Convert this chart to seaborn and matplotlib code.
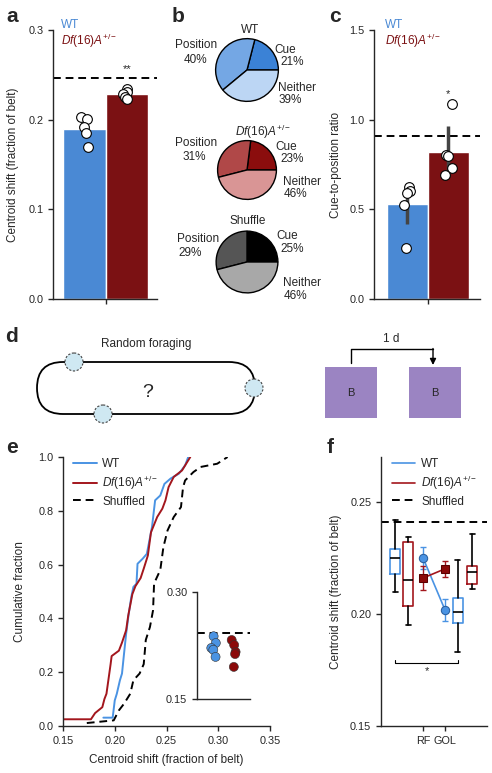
import numpy as np
import pandas as pd
import matplotlib
matplotlib.use('Agg')
import matplotlib.pyplot as plt
from matplotlib.patches import FancyBboxPatch, Circle, Rectangle
from matplotlib.lines import Line2D
import seaborn as sns

sns.set_theme(style='ticks')
plt.rcParams['font.family'] = ['Liberation Sans', 'DejaVu Sans']
plt.rcParams['font.size'] = 8.5
plt.rcParams['axes.labelsize'] = 8.5
plt.rcParams['legend.fontsize'] = 8.5
plt.rcParams['mathtext.fontset'] = 'custom'
plt.rcParams['mathtext.rm'] = 'Liberation Sans'
plt.rcParams['mathtext.it'] = 'Liberation Sans:italic'
plt.rcParams['axes.linewidth'] = 1.0
plt.rcParams['xtick.major.width'] = 1.0
plt.rcParams['ytick.major.width'] = 1.0
plt.rcParams['xtick.major.size'] = 3.5
plt.rcParams['ytick.major.size'] = 3.5
plt.rcParams['xtick.labelsize'] = 7.8
plt.rcParams['ytick.labelsize'] = 7.8

DF_LABEL = r'$\mathit{Df(16)A}^{+/-}$'
BLUE = '#4a89d4'
RED = '#7b1113'
LBLUE = '#4a93e3'
LRED = '#a3161d'
np.random.seed(7)

# ---- data ----
groups = ['WT', 'Df']
a_wt = [0.203, 0.201, 0.192, 0.185, 0.169]
a_df = [0.234, 0.231, 0.229, 0.225, 0.223]
a_shuffle = 0.246

pie_labels = ['Cue', 'Position', 'Neither']
pie_wt = [21, 40, 39]
pie_df = [23, 31, 46]
pie_sh = [25, 29, 46]

c_wt = [0.626, 0.604, 0.593, 0.526, 0.286]
c_df = [1.085, 0.803, 0.800, 0.732, 0.690]
c_err = [0.11, 0.14]
c_shuffle = 0.91

e_wt_x = [0.189, 0.198, 0.200, 0.202, 0.205, 0.207, 0.209, 0.211, 0.2135, 0.216, 0.218,
          0.221, 0.222, 0.227, 0.231, 0.236, 0.239, 0.244, 0.248, 0.254, 0.262, 0.268, 0.271]
e_wt_y = [0.031, 0.031, 0.095, 0.12, 0.17, 0.195, 0.27, 0.343, 0.417, 0.48, 0.517,
          0.529, 0.603, 0.622, 0.64, 0.74, 0.839, 0.857, 0.90, 0.92, 0.938, 0.969, 1.0]
e_df_x = [0.150, 0.177, 0.181, 0.188, 0.190, 0.192, 0.196, 0.197, 0.204, 0.207, 0.211, 0.213,
          0.217, 0.220, 0.225, 0.228, 0.232, 0.235, 0.241, 0.246, 0.249, 0.252, 0.257, 0.265, 0.273]
e_df_y = [0.025, 0.025, 0.048, 0.07, 0.10, 0.12, 0.23, 0.26, 0.28, 0.31, 0.356, 0.41,
          0.49, 0.52, 0.55, 0.585, 0.634, 0.72, 0.777, 0.808, 0.839, 0.888, 0.926, 0.95, 1.0]
e_sh_x = [0.173, 0.199, 0.204, 0.209, 0.215, 0.218, 0.224, 0.228, 0.230, 0.234, 0.237, 0.238,
          0.244, 0.247, 0.251, 0.257, 0.264, 0.266, 0.268, 0.276, 0.283, 0.299, 0.309]
e_sh_y = [0.011, 0.021, 0.058, 0.083, 0.12, 0.17, 0.195, 0.23, 0.32, 0.368, 0.43, 0.53,
          0.58, 0.665, 0.727, 0.777, 0.814, 0.888, 0.913, 0.944, 0.963, 0.975, 1.0]
inset_wt = [0.238, 0.2285, 0.2215, 0.219, 0.209]
inset_df = [0.2327, 0.2257, 0.216, 0.213, 0.195]
inset_shuffle = 0.2425

f_sessions = ['RF', 'GOL']
f_box_wt = {'whislo': [0.2096, 0.1828], 'q1': [0.218, 0.1958], 'med': [0.225, 0.2007],
            'q3': [0.229, 0.207], 'whishi': [0.2421, 0.2239]}
f_box_df = {'whislo': [0.195, 0.2112], 'q1': [0.2037, 0.2133], 'med': [0.2152, 0.2185],
            'q3': [0.232, 0.2212], 'whishi': [0.2342, 0.2358]}
f_wt_mean = [0.225, 0.2018]
f_wt_err = [0.0048, 0.0049]
f_df_mean = [0.216, 0.2201]
f_df_err = [0.0055, 0.0037]
f_shuffle = 0.2409

# ---- figure ----
W, H = 492, 773
fig = plt.figure(figsize=(W / 100, H / 100), dpi=100)


def px_axes(l, t, r, b):
    return fig.add_axes([l / W, 1 - b / H, (r - l) / W, (b - t) / H])


def ftext(x, y, s, **kw):
    kw.setdefault('ha', 'center')
    kw.setdefault('va', 'center')
    fig.text(x / W, 1 - y / H, s, **kw)


def panel_letter(x, y, s):
    ftext(x, y, s, fontsize=15, fontweight='bold')


def bar_panel(ax, wt, df, shuffle, err=None):
    d = pd.DataFrame({'group': ['WT'] * len(wt) + ['Df'] * len(df), 'val': wt + df})
    sns.barplot(data=d, x='group', y='val', hue='group', palette=[BLUE, RED], width=1,
                errorbar=None, saturation=1, legend=False, ax=ax, zorder=1)
    if err is not None:
        ax.errorbar([0, 1], [np.mean(wt), np.mean(df)], yerr=err, fmt='none',
                    ecolor='#444444', elinewidth=2.5, capsize=0, zorder=3)
    sns.stripplot(data=d, x='group', y='val', color='white', edgecolor='black',
                  linewidth=0.8, size=7, jitter=0.1, ax=ax, zorder=4)
    ax.axhline(shuffle, color='black', lw=1.4, ls=(0, (4, 2.5)), zorder=2)
    sns.despine(ax=ax)
    ax.set_xlabel('')


# panel a
ax_a = px_axes(53, 30, 157, 299)
bar_panel(ax_a, a_wt, a_df, a_shuffle)
ax_a.set_xlim(-0.735, 1.71)
ax_a.set_xticks([0.5])
ax_a.set_xticklabels([''])
ax_a.set_ylim(0, 0.3)
ax_a.set_yticks([0, 0.1, 0.2, 0.3])
ax_a.set_yticklabels(['0.0', '0.1', '0.2', '0.3'])
ax_a.set_ylabel('Centroid shift (fraction of belt)')
ax_a.yaxis.set_label_coords(-0.33, 0.5)
ax_a.text(1, 0.256, '**', ha='center', va='center', fontsize=8)
ftext(61, 25, 'WT', color=BLUE, ha='left')
ftext(61, 41, DF_LABEL, color=RED, ha='left')
panel_letter(12, 17, 'a')

# panel b: pies
pie_specs = [
    (pie_wt, ['#3b82d6', '#74a7e4', '#bcd6f4'], 247, 70, 32, 'WT', 250, 30),
    (pie_df, ['#8b0d0d', '#b04848', '#d99595'], 247, 170, 30, DF_LABEL, 263, 132),
    (pie_sh, ['#000000', '#555555', '#a8a8a8'], 247, 262, 31.5, 'Shuffle', 248, 221),
]
label_pos = [
    [(285, 50, 292, 62), (196, 45, 195, 60), (297, 88, 290, 100)],
    [(286, 147, 292, 159), (196, 143, 194, 157), (302, 182, 295, 194)],
    [(287, 236, 292, 249), (198, 239, 190, 253), (302, 283, 295, 296)],
]
for (vals, cols, cx, cy, r, title, tx, ty), lpos in zip(pie_specs, label_pos):
    ax = px_axes(cx - r, cy - r, cx + r, cy + r)
    ax.pie(vals, colors=cols, startangle=0, counterclock=True,
           wedgeprops=dict(edgecolor='black', linewidth=1.0))
    ax.set_xlim(-1.02, 1.02)
    ax.set_ylim(-1.02, 1.02)
    ax.set_aspect('auto')
    ftext(tx, ty, title)
    for name, v, (x1, y1, x2, y2) in zip(pie_labels, vals, lpos):
        ftext(x1, y1, name)
        ftext(x2, y2, f'{v}%')
panel_letter(178, 17, 'b')

# panel c
ax_c = px_axes(374, 30, 480, 299)
bar_panel(ax_c, c_wt, c_df, c_shuffle, err=c_err)
ax_c.set_xlim(-0.817, 1.77)
ax_c.set_xticks([0.5])
ax_c.set_xticklabels([''])
ax_c.set_ylim(0, 1.5)
ax_c.set_yticks([0, 0.5, 1.0, 1.5])
ax_c.set_yticklabels(['0.0', '0.5', '1.0', '1.5'])
ax_c.set_ylabel('Cue-to-position ratio')
ax_c.yaxis.set_label_coords(-0.30, 0.5)
ax_c.text(1, 1.14, '*', ha='center', va='center', fontsize=8)
ftext(385, 25, 'WT', color=BLUE, ha='left')
ftext(385, 41, DF_LABEL, color=RED, ha='left')
panel_letter(335, 17, 'c')

# panel d: schematic
ax_d = px_axes(0, 320, 492, 440)
ax_d.set_xlim(0, 492)
ax_d.set_ylim(440, 320)
ax_d.axis('off')
ax_d.add_patch(FancyBboxPatch((37, 362), 218, 52, boxstyle='round,pad=0,rounding_size=26',
                              fill=False, edgecolor='black', linewidth=1.3))
for (cx, cy) in [(74, 362), (254, 388), (103, 414)]:
    ax_d.add_patch(Circle((cx, cy), 9, facecolor='#cfe8f2', edgecolor='#444444',
                          linewidth=0.8, linestyle=(0, (2, 1.5)), zorder=3))
ax_d.text(148, 392, '?', ha='center', va='center', fontsize=14)
ax_d.text(146, 344, 'Random foraging', ha='center', va='center')
for x0 in (325, 409):
    ax_d.add_patch(Rectangle((x0, 367), 52, 51, facecolor='#9b84c2', edgecolor='none'))
    ax_d.text(x0 + 26, 393, 'B', ha='center', va='center', fontsize=8)
ax_d.plot([351, 351, 433], [363, 349, 349], color='black', lw=1)
ax_d.annotate('', xy=(433, 365), xytext=(433, 348.5),
              arrowprops=dict(arrowstyle='-|>', color='black', lw=1, mutation_scale=9,
                              shrinkA=0, shrinkB=0))
ax_d.text(391, 339, '1 d', ha='center', va='center')
panel_letter(12, 337, 'd')

# panel e
ax_e = px_axes(63, 457, 270, 726)
sns.lineplot(x=e_wt_x, y=e_wt_y, sort=False, estimator=None, color=LBLUE, lw=1.4,
             label='WT', ax=ax_e)
sns.lineplot(x=e_df_x, y=e_df_y, sort=False, estimator=None, color=LRED, lw=1.4,
             label=DF_LABEL, ax=ax_e)
sns.lineplot(x=e_sh_x, y=e_sh_y, sort=False, estimator=None, color='black', lw=1.4,
             linestyle=(0, (4, 2.5)), label='Shuffled', ax=ax_e)
ax_e.set_xlim(0.15, 0.35)
ax_e.set_ylim(0, 1.0)
ax_e.set_xticks([0.15, 0.20, 0.25, 0.30, 0.35])
ax_e.set_xticklabels(['0.15', '0.20', '0.25', '0.30', '0.35'])
ax_e.set_yticks([0, 0.2, 0.4, 0.6, 0.8, 1.0])
ax_e.set_yticklabels(['0.0', '0.2', '0.4', '0.6', '0.8', '1.0'])
ax_e.set_xlabel('Centroid shift (fraction of belt)')
ax_e.xaxis.set_label_coords(0.5, -0.105)
ax_e.set_ylabel('Cumulative fraction')
ax_e.yaxis.set_label_coords(-0.18, 0.5)
sns.despine(ax=ax_e)
ax_e.legend(loc='upper left', bbox_to_anchor=(0.048, 0.995), frameon=False, borderpad=0,
            borderaxespad=0, handlelength=2.0, handletextpad=0.5, labelspacing=0.3)
panel_letter(12, 448, 'e')

# inset
ax_i = px_axes(197, 592, 250, 699)
ax_i.set_facecolor('none')
d_in = pd.DataFrame({'group': ['WT'] * len(inset_wt) + ['Df'] * len(inset_df),
                     'val': inset_wt + inset_df})
sns.stripplot(data=d_in, x='group', y='val', hue='group', palette=[LBLUE, '#8b0a0a'],
              size=6.5, linewidth=0.4, edgecolor='#333333', jitter=0.15, legend=False,
              ax=ax_i)
ax_i.axhline(inset_shuffle, color='black', lw=1.4, ls=(0, (4, 2.5)))
ax_i.set_xlim(-0.76, 1.76)
ax_i.set_ylim(0.15, 0.30)
ax_i.set_yticks([0.15, 0.30])
ax_i.set_yticklabels(['0.15', '0.30'])
ax_i.set_xticks([])
ax_i.set_xlabel('')
ax_i.set_ylabel('')
sns.despine(ax=ax_i)

# panel f
ax_f = px_axes(381, 457, 487, 726)
box_pos_wt = [-1.27, 1.59]
box_pos_df = [-0.68, 2.23]
for box, pos, col in [(f_box_wt, box_pos_wt, LBLUE), (f_box_df, box_pos_df, LRED)]:
    stats = [{k: box[k][i] for k in box} for i in range(len(pos))]
    ax_f.bxp(stats, positions=pos, widths=0.45, showfliers=False,
             boxprops=dict(color=col, lw=1.2), medianprops=dict(color='black', lw=1.2),
             whiskerprops=dict(color='black', lw=1.2), capprops=dict(color='black', lw=1.2),
             manage_ticks=False)
f_x = [0, 1]
ax_f.errorbar(f_x, f_wt_mean, yerr=f_wt_err, fmt='none', ecolor=LBLUE, elinewidth=1,
              capsize=2, zorder=3)
ax_f.errorbar(f_x, f_df_mean, yerr=f_df_err, fmt='none', ecolor=LRED, elinewidth=1,
              capsize=2, zorder=3)
sns.lineplot(x=f_x, y=f_wt_mean, color=LBLUE, marker='o', markersize=6,
             markeredgecolor='#2a5f9e', lw=1.2, ax=ax_f, zorder=4)
sns.lineplot(x=f_x, y=f_df_mean, color=LRED, marker='s', markersize=5.5,
             markerfacecolor='#8b0a0a', markeredgecolor='#5a0000', lw=1.2, ax=ax_f, zorder=4)
ax_f.axhline(f_shuffle, color='black', lw=1.4, ls=(0, (4, 2.5)))
ax_f.plot([box_pos_wt[0], box_pos_wt[0], box_pos_wt[1], box_pos_wt[1]],
          [0.1795, 0.178, 0.178, 0.1795], color='black', lw=0.8)
ax_f.text(np.mean(box_pos_wt), 0.1745, '*', ha='center', va='center', fontsize=8)
ax_f.set_xlim(-1.91, 2.91)
ax_f.set_ylim(0.15, 0.27)
ax_f.set_yticks([0.15, 0.20, 0.25])
ax_f.set_yticklabels(['0.15', '0.20', '0.25'])
ax_f.set_xticks(f_x)
ax_f.set_xticklabels(f_sessions)
ax_f.set_ylabel('Centroid shift (fraction of belt)')
ax_f.yaxis.set_label_coords(-0.37, 0.5)
sns.despine(ax=ax_f)
handles = [Line2D([], [], color=LBLUE, lw=1.2), Line2D([], [], color=LRED, lw=1.2),
           Line2D([], [], color='black', lw=1.4, ls=(0, (4, 2.5)))]
ax_f.legend(handles, ['WT', DF_LABEL, 'Shuffled'], loc='upper left',
            bbox_to_anchor=(0.10, 0.995), frameon=False, borderpad=0, borderaxespad=0,
            handlelength=2.0, handletextpad=0.5, labelspacing=0.3)
panel_letter(330, 448, 'f')

fig.savefig('out.png', dpi=100)
